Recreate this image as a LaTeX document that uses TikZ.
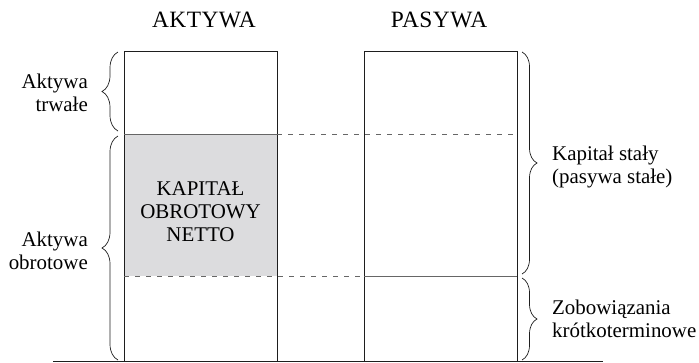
\documentclass[tikz,border=0pt]{standalone}
\usepackage{fontspec}
\setmainfont{Liberation Serif}
\usetikzlibrary{decorations.pathreplacing}
\definecolor{netgray}{HTML}{DCDCDE}
\definecolor{inkblack}{HTML}{1E1E1E}
\definecolor{rulegray}{HTML}{666666}
\begin{document}
\begin{tikzpicture}[x=1bp,y=-1bp,
  frame/.style={draw=inkblack,line width=0.9bp},
  divider/.style={draw=rulegray,line width=0.9bp},
  dashline/.style={draw=rulegray,line width=0.9bp,dash pattern=on 5bp off 6bp},
  bracel/.style={draw=inkblack,line width=0.7bp,decorate,decoration={brace,amplitude=16bp}},
  bracer/.style={draw=inkblack,line width=0.7bp,decorate,decoration={brace,amplitude=15bp}},
  heading/.style={font=\fontsize{23.5}{25}\selectfont\addfontfeature{LetterSpace=2},inner sep=0pt,anchor=base},
  label/.style={font=\fontsize{21}{23}\selectfont,inner sep=0pt},
]
\useasboundingbox (0,0) rectangle (699,362);

% working-capital area inside the assets column
\fill[netgray] (124,134) rectangle (277,276);

% column frames
\draw[frame] (124,51) rectangle (277,361);
\draw[frame] (364,51) rectangle (517,361);

% horizontal splits
\draw[divider] (124,134) -- (277,134);
\draw[dashline] (277,134) -- (517,134);
\draw[dashline] (124,276) -- (364,276);
\draw[divider] (364,276) -- (517,276);

% ground line
\coordinate (g1) at (53,361);
\coordinate (g2) at (603,361);
\draw[frame] (g1) -- (g2);

% column headings
\node[heading] (akt) at (204,27) {AKTYWA};
\node[heading] (pas) at (439,27) {PASYWA};

% braces on the assets side
\coordinate (la1) at (118,131);
\coordinate (la2) at (118,52);
\coordinate (lb1) at (118,360);
\coordinate (lb2) at (118,136);
\draw[bracel] (la1) -- (la2);
\draw[bracel] (lb1) -- (lb2);

% braces on the liabilities side
\coordinate (ra1) at (522,52);
\coordinate (ra2) at (522,274);
\coordinate (rb1) at (522,278);
\coordinate (rb2) at (522,360);
\draw[bracer] (ra1) -- (ra2);
\draw[bracer] (rb1) -- (rb2);

% labels
\node[label,align=right,anchor=east] (trw) at (88,93) {Aktywa\\trwałe};
\node[label,align=right,anchor=east] (obr) at (88,251) {Aktywa\\obrotowe};
\node[label,align=left,anchor=west] (kst) at (552,167) {Kapitał stały\\(pasywa stałe)};
\node[label,align=left,anchor=west] (zob) at (552,319) {Zobowiązania\\krótkoterminowe};
\node[label,align=center] (kon) at (200.5,212) {KAPITAŁ\\OBROTOWY\\NETTO};
\end{tikzpicture}
\end{document}
